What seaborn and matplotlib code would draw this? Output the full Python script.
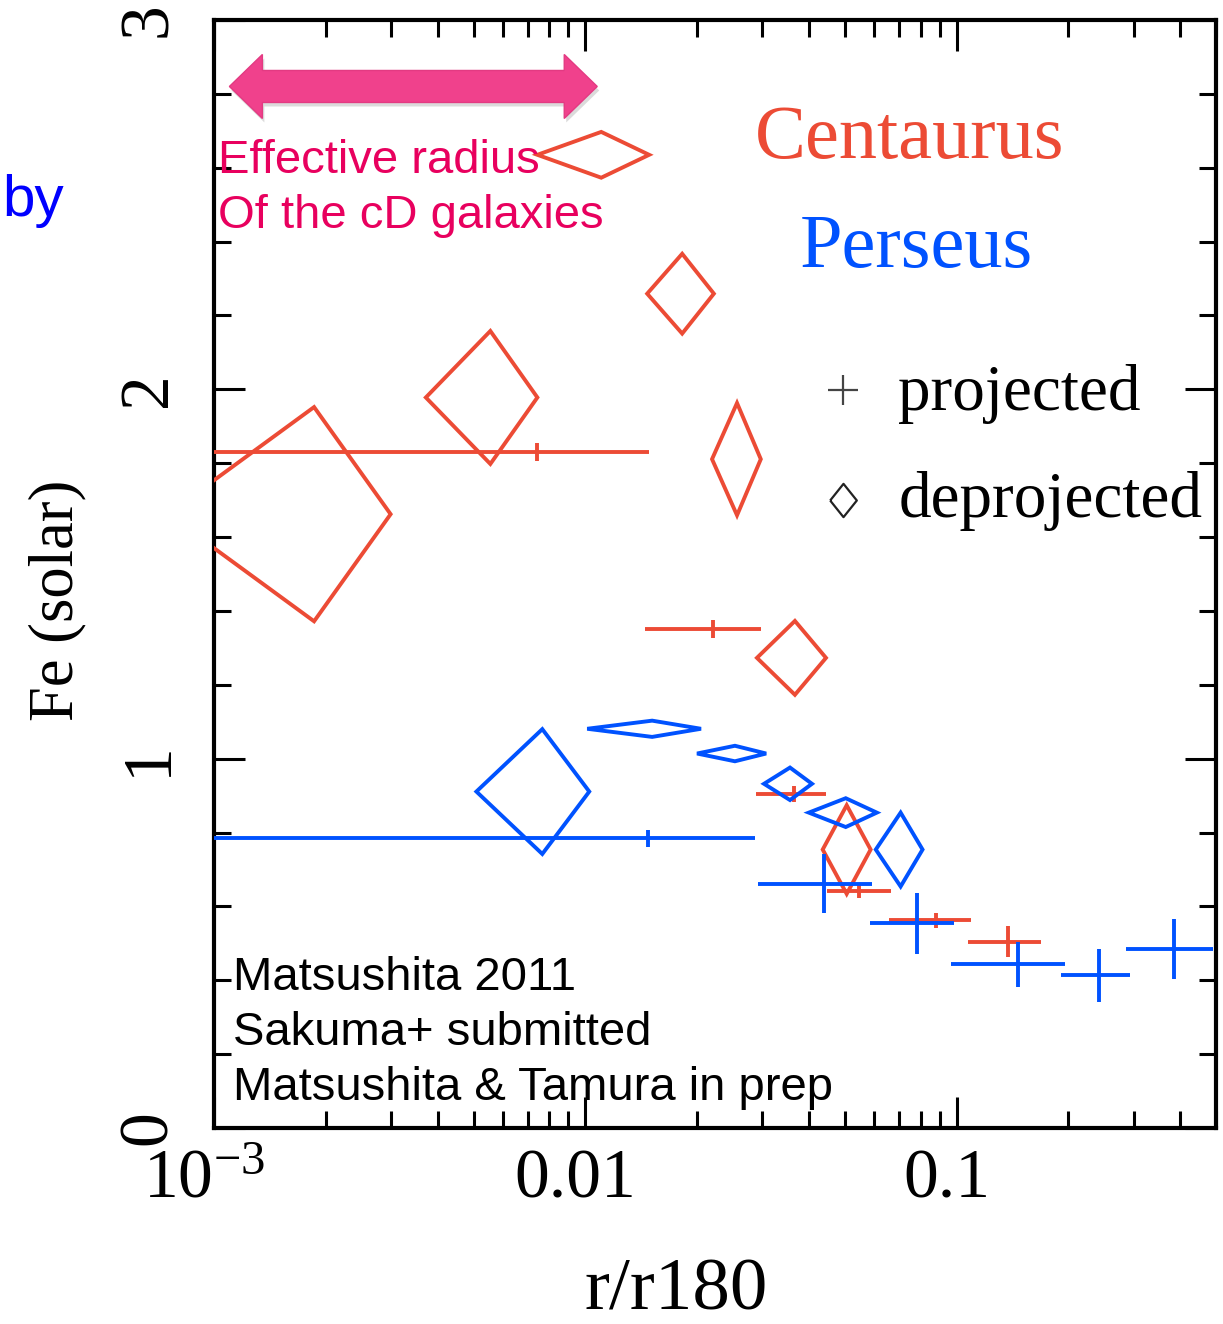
import numpy as np
import matplotlib
matplotlib.use("Agg")
import matplotlib.pyplot as plt
import matplotlib.ticker as mticker
from matplotlib.patches import Polygon
from matplotlib.transforms import ScaledTranslation
import seaborn as sns

# ---------------- data ----------------
# Centaurus, projected profile: annulus inner/outer radius, centre, Fe, 1-sigma
cen_proj_rin = [0.0, 0.0145, 0.0288, 0.0448, 0.0657, 0.1077]
cen_proj_r = [0.00743, 0.0221, 0.0365, 0.0545, 0.0878, 0.138]
cen_proj_rout = [0.01486, 0.0297, 0.0445, 0.0665, 0.1097, 0.1693]
cen_proj_fe = [1.830, 1.351, 0.905, 0.643, 0.562, 0.505]
cen_proj_err = [0.025, 0.024, 0.022, 0.019, 0.020, 0.042]

# Centaurus, deprojected profile
cen_dep_rin = [0.00075, 0.00372, 0.00743, 0.01468, 0.02195, 0.0290, 0.0436]
cen_dep_r = [0.00186, 0.00555, 0.01104, 0.01824, 0.02563, 0.0367, 0.0506]
cen_dep_rout = [0.00299, 0.00743, 0.01486, 0.0222, 0.0297, 0.0445, 0.0587]
cen_dep_fe = [1.662, 1.978, 2.635, 2.259, 1.811, 1.273, 0.754]
cen_dep_err = [0.29, 0.18, 0.062, 0.108, 0.152, 0.10, 0.12]

# Perseus, projected profile
per_proj_rin = [0.0, 0.0292, 0.0583, 0.0964, 0.191, 0.2865]
per_proj_r = [0.01477, 0.0439, 0.0781, 0.146, 0.2423, 0.3855]
per_proj_rout = [0.0286, 0.0591, 0.0982, 0.196, 0.294, 0.49]
per_proj_fe = [0.784, 0.662, 0.554, 0.443, 0.414, 0.484]
per_proj_err = [0.023, 0.081, 0.082, 0.062, 0.072, 0.081]

# Perseus, deprojected profile
per_dep_rin = [0.00509, 0.01012, 0.0200, 0.0303, 0.0400, 0.0606]
per_dep_r = [0.00766, 0.01514, 0.0253, 0.0356, 0.0503, 0.0707]
per_dep_rout = [0.01025, 0.0205, 0.0307, 0.0408, 0.0610, 0.0810]
per_dep_fe = [0.911, 1.081, 1.014, 0.932, 0.854, 0.754]
per_dep_err = [0.169, 0.022, 0.021, 0.044, 0.039, 0.100]

x_ticks = [0.001, 0.01, 0.1]
x_tick_labels = [r"$10^{-3}$", "0.01", "0.1"]
y_ticks = [0, 1, 2, 3]

RED = "#EC4B35"
BLUE = "#0052FF"
PINK = "#E8005E"

# ---------------- style ----------------
sns.set_theme(style="ticks")
plt.rcParams["font.family"] = ["Liberation Serif", "DejaVu Serif"]
plt.rcParams["mathtext.fontset"] = "custom"
plt.rcParams["mathtext.rm"] = "Liberation Serif"
plt.rcParams["mathtext.it"] = "Liberation Serif"
plt.rcParams["mathtext.bf"] = "Liberation Serif"
for key in ["text.color", "axes.labelcolor", "xtick.color", "ytick.color",
            "xtick.labelcolor", "ytick.labelcolor", "axes.edgecolor"]:
    plt.rcParams[key] = "black"
SANS = ["Liberation Sans", "DejaVu Sans"]

fig = plt.figure(figsize=(12.23, 13.24), dpi=100)
fig.patch.set_facecolor("white")
ax = fig.add_axes([0.1750, 0.1480, 0.8193, 0.8369])
ax.set_facecolor("white")
ax.set_xscale("log", nonpositive="clip")
ax.set_xlim(0.001, 0.5)
ax.set_ylim(0, 3)

LW = 2.8


def draw_projected(rin, r, rout, fe, err, color):
    r = np.asarray(r)
    xerr = [r - np.asarray(rin), np.asarray(rout) - r]
    ax.errorbar(r, fe, xerr=xerr, yerr=err, fmt="none", ecolor=color,
                elinewidth=LW, capsize=0, zorder=3)


def draw_deprojected(rin, r, rout, fe, err, color):
    for a, c, b, y, e in zip(rin, r, rout, fe, err):
        ax.fill([a, c, b, c], [y, y + e, y, y - e], fill=False,
                edgecolor=color, lw=LW, joinstyle="miter", zorder=3)


draw_deprojected(cen_dep_rin, cen_dep_r, cen_dep_rout, cen_dep_fe, cen_dep_err, RED)
draw_projected(cen_proj_rin, cen_proj_r, cen_proj_rout, cen_proj_fe, cen_proj_err, RED)
draw_deprojected(per_dep_rin, per_dep_r, per_dep_rout, per_dep_fe, per_dep_err, BLUE)
draw_projected(per_proj_rin, per_proj_r, per_proj_rout, per_proj_fe, per_proj_err, BLUE)

# ---------------- axes ----------------
for sp in ax.spines.values():
    sp.set_linewidth(3.0)
    sp.set_color("black")
    sp.set_visible(True)

ax.set_xticks(x_ticks, x_tick_labels)
ax.xaxis.set_minor_locator(mticker.LogLocator(base=10, subs=np.arange(2, 10)))
ax.xaxis.set_minor_formatter(mticker.NullFormatter())
ax.set_yticks(y_ticks)
ax.yaxis.set_major_formatter(mticker.FormatStrFormatter("%d"))
ax.yaxis.set_minor_locator(mticker.MultipleLocator(0.2))

ax.tick_params(which="both", direction="in", top=True, right=True,
               color="black", width=2.2, labelcolor="black")
ax.tick_params(which="major", length=22)
ax.tick_params(which="minor", length=12)
ax.tick_params(axis="x", which="major", labelsize=50, pad=50)
ax.tick_params(axis="y", which="major", labelsize=50, pad=24, labelrotation=90)

shift = ScaledTranslation(-10 / 100, 0, fig.dpi_scale_trans)
for lab in ax.get_xticklabels():
    lab.set_verticalalignment("baseline")
    lab.set_transform(lab.get_transform() + shift)
for lab in ax.get_yticklabels():
    lab.set_verticalalignment("center")

ax.set_xlabel("r/r180", fontsize=54, color="black")
ax.xaxis.set_label_coords(0.461, -0.1475)
ax.xaxis.label.set_verticalalignment("center")
ax.set_ylabel("Fe (solar)", fontsize=45, color="black")
ax.yaxis.set_label_coords(-0.1567, 0.4765)
ax.yaxis.label.set_verticalalignment("center")

# ---------------- labels & key ----------------
ax.text(0.540, 0.875, "Centaurus", color=RED, fontsize=55,
        transform=ax.transAxes, va="baseline", ha="left")
ax.text(0.585, 0.777, "Perseus", color=BLUE, fontsize=55,
        transform=ax.transAxes, va="baseline", ha="left")

ax.plot([0.628], [0.666], marker="+", ms=22, mew=1.6, color="#444444",
        transform=ax.transAxes, clip_on=False, ls="none")
key_diamond = [(-0.8, 0), (0, 1), (0.8, 0), (0, -1), (-0.8, 0)]
ax.plot([0.628], [0.567], marker=key_diamond, ms=24, mew=1.6, mfc="none",
        mec="#222222", transform=ax.transAxes, clip_on=False, ls="none")
ax.text(0.683, 0.648, "projected", fontsize=47, transform=ax.transAxes,
        va="baseline", ha="left", color="black")
ax.text(0.683, 0.5515, "deprojected", fontsize=47, transform=ax.transAxes,
        va="baseline", ha="left", color="black")

for yy, line in zip([0.1245, 0.0749, 0.0253],
                    ["Matsushita 2011", "Sakuma+ submitted",
                     "Matsushita & Tamura in prep"]):
    ax.text(0.019, yy, line, fontsize=34, family=SANS, color="black",
            transform=ax.transAxes, va="baseline", ha="left")

ax.text(0.004, 0.8623, "Effective radius", fontsize=34, family=SANS,
        color=PINK, transform=ax.transAxes, va="baseline", ha="left")
ax.text(0.004, 0.8123, "Of the cD galaxies", fontsize=34, family=SANS,
        color=PINK, transform=ax.transAxes, va="baseline", ha="left")

# double-headed arrow spanning the cD effective radius
arrow_x = (0.00110, 0.01077)
arrow_y = 2.82
to_axes = ax.transAxes.inverted()
(x0, yd) = ax.transData.transform((arrow_x[0], arrow_y))
(x1, _) = ax.transData.transform((arrow_x[1], arrow_y))
head_len, head_half, shaft_half = 33, 32, 16
verts = [(x0, yd), (x0 + head_len, yd + head_half), (x0 + head_len, yd + shaft_half),
         (x1 - head_len, yd + shaft_half), (x1 - head_len, yd + head_half),
         (x1, yd), (x1 - head_len, yd - head_half), (x1 - head_len, yd - shaft_half),
         (x0 + head_len, yd - shaft_half), (x0 + head_len, yd - head_half)]
shadow = [(vx + 2, vy - 4) for vx, vy in verts]
ax.add_patch(Polygon(to_axes.transform(shadow), closed=True, transform=ax.transAxes,
                     facecolor="#999999", alpha=0.35, edgecolor="none",
                     clip_on=False, zorder=4))
ax.add_patch(Polygon(to_axes.transform(verts), closed=True, transform=ax.transAxes,
                     facecolor="#F0418C", edgecolor="#E33A82", lw=1,
                     clip_on=False, zorder=5))

fig.text(0.0015, 1 - 216 / 1324, "by", fontsize=42, family=SANS, color="#0000FF",
         va="baseline", ha="left")

fig.savefig("out.png", dpi=100, facecolor="white")
